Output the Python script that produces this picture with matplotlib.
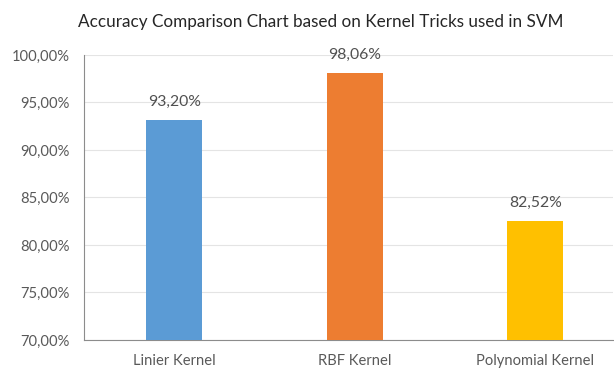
import matplotlib.pyplot as plt
from matplotlib.ticker import FuncFormatter

kernels = ['Linier Kernel', 'RBF Kernel', 'Polynomial Kernel']
accuracy = [93.20, 98.06, 82.52]
colors = ['#5B9BD5', '#ED7D31', '#FFC000']

plt.rcParams['font.family'] = ['Lato', 'DejaVu Sans']

fig = plt.figure(figsize=(6.14, 3.68), dpi=100)
ax = fig.add_axes([0.1368, 0.0761, 0.8616, 0.7745])

x = range(len(kernels))
bars = ax.bar(x, accuracy, width=0.31, color=colors, zorder=3)

# value labels above bars, comma decimals
for b, v in zip(bars, accuracy):
    ax.text(b.get_x() + b.get_width() / 2, v + 1.9, f'{v:.2f}%'.replace('.', ','),
            ha='center', va='center', fontsize=11.3, color='#505050')

ax.set_ylim(70, 100)
ax.set_xlim(-0.5, 2.43)
ax.set_yticks(range(70, 101, 5))
ax.yaxis.set_major_formatter(FuncFormatter(lambda y, _: f'{y:.2f}%'.replace('.', ',')))
ax.set_xticks(list(x))
ax.set_xticklabels(kernels)

ax.grid(axis='y', color='#E4E4E4', linewidth=0.8, zorder=0)
for side in ['top', 'right']:
    ax.spines[side].set_visible(False)
for side in ['left', 'bottom']:
    ax.spines[side].set_color('#8C8C8C')
ax.tick_params(axis='both', length=0, labelsize=10.6, labelcolor='#595959')
ax.tick_params(axis='x', pad=10)
ax.tick_params(axis='y', pad=10)

fig.text(0.523, 0.94, 'Accuracy Comparison Chart based on Kernel Tricks used in SVM',
         ha='center', va='center', fontsize=12.3, color='#262626')

plt.savefig('out.png', dpi=100)
